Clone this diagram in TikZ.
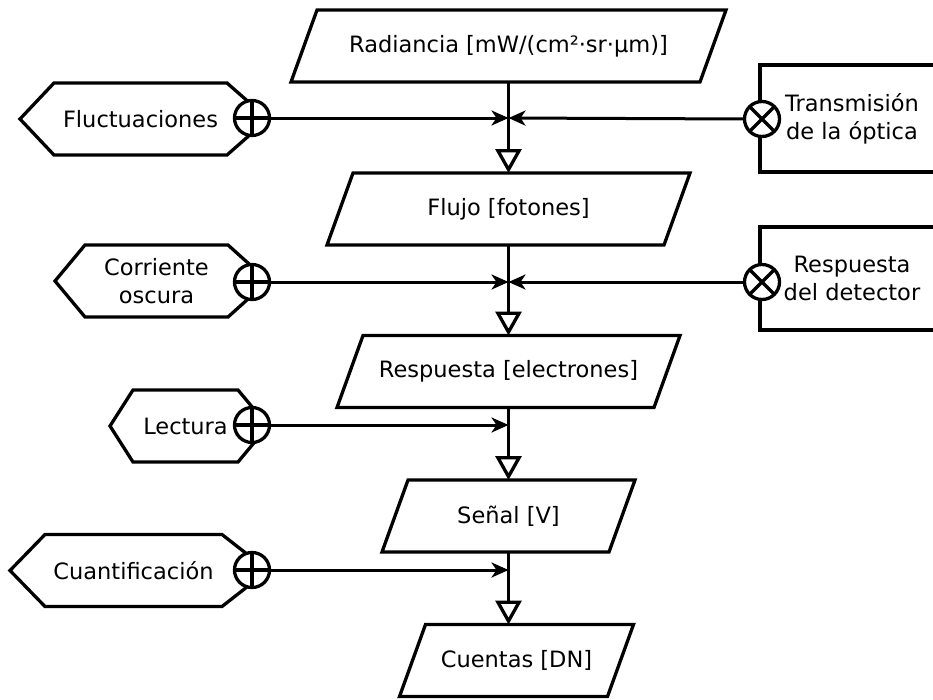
\documentclass[tikz,border=0pt]{standalone}
\usepackage{fontspec}
\setmainfont{DejaVu Sans}
\usetikzlibrary{arrows.meta,calc}

\tikzset{
  lbl/.style={font=\fontsize{22.5}{28}\selectfont, align=center, inner sep=0pt, outer sep=0pt},
  databox/.style={lbl, minimum height=72pt},
  hexbox/.style={lbl, minimum height=72pt},
  sidebox/.style={lbl, draw, line width=3.3pt},
  mixer/.style={circle, draw, fill=white, line width=3.3pt, minimum size=35pt, inner sep=0pt, outer sep=0pt},
  outline/.style={draw, line width=3.3pt, line join=miter},
  flow/.style={line width=3.3pt, -{Triangle[open, length=24pt, width=26pt]}},
  feed/.style={line width=3pt, -{Stealth[length=17pt, width=15pt, inset=5pt]}},
}

% parallelogram drawn around a data node (skew of 26pt)
\newcommand\paraline[1]{\draw[outline] ($(#1.north west)+(13,0)$) -- ($(#1.north east)+(13,0)$) -- ($(#1.south east)-(13,0)$) -- ($(#1.south west)-(13,0)$) -- cycle;}
% hexagon around a source node: #2 left point depth, #3 right point depth
\newcommand\hexline[3]{\draw[outline] (#1.north west) -- (#1.north east) -- ($(#1.east)+(#3,0)$) -- (#1.south east) -- (#1.south west) -- ($(#1.west)-(#2,0)$) -- cycle;}
% sum and product marks inside a mixer circle
\newcommand\plusmark[1]{\draw[line width=3.3pt] (#1.north) -- (#1.south) (#1.west) -- (#1.east);}
\newcommand\timesmark[1]{\draw[line width=3.3pt] (#1.north west) -- (#1.south east) (#1.north east) -- (#1.south west);}

\begin{document}
\begin{tikzpicture}[x=1pt, y=-1pt]
\useasboundingbox (0,0) rectangle (933,699);
\clip (0,0) rectangle (933,699);

% main chain of quantities
\node[databox, minimum width=409pt] (rad) at (508.5,46) {Radiancia [mW/(cm²·sr·µm)]};
\node[databox, minimum width=337pt] (flu) at (508.5,209) {Flujo [fotones]};
\node[databox, minimum width=317pt] (res) at (508.5,371.5) {Respuesta [electrones]};
\node[databox, minimum width=227pt] (sen) at (508.5,516) {Señal [V]};
\node[databox, minimum width=208pt] (cue) at (516.5,660.5) {Cuentas [DN]};
\paraline{rad}
\paraline{flu}
\paraline{res}
\paraline{sen}
\paraline{cue}

% additive sources
\node[hexbox, minimum width=173pt] (fluc) at (140.5,119) {Fluctuaciones};
\node[hexbox, minimum width=143pt] (corr) at (156.5,281) {Corriente\\oscura};
\node[hexbox, minimum width=105pt] (lect) at (185.5,426) {Lectura};
\node[hexbox, minimum width=177pt] (cuan) at (133.5,570.5) {Cuantificación};
\hexline{fluc}{34}{41}
\hexline{corr}{30}{40}
\hexline{lect}{23}{30}
\hexline{cuan}{35}{46}

% multiplicative factors
\node[sidebox, minimum width=184pt, minimum height=107pt] (tra) at (852,118.5) {Transmisión\\de la óptica};
\node[sidebox, minimum width=184pt, minimum height=103pt] (det) at (852,278.5) {Respuesta\\del detector};

% mixers
\node[mixer] (pf) at (252,118) {};
\node[mixer] (pc) at (252,282) {};
\node[mixer] (pl) at (252,425) {};
\node[mixer] (pq) at (252,570) {};
\node[mixer] (tx) at (762,119) {};
\node[mixer] (dx) at (762,282) {};
\plusmark{pf}
\plusmark{pc}
\plusmark{pl}
\plusmark{pq}
\timesmark{tx}
\timesmark{dx}

% junctions on the main line
\coordinate (j1) at (508.5,118);
\coordinate (j2) at (508.5,282);
\coordinate (j3) at (508.5,425);
\coordinate (j4) at (508.5,570);

% main flow
\draw[flow] (rad.south) -- (flu.north);
\draw[flow] (flu.south) -- (res.north);
\draw[flow] (res.south) -- (sen.north);
\draw[flow] (sen.south) -- (sen.south |- cue.north);

% contributions
\draw[feed] (pf.east) -- (j1);
\draw[feed] (tx.west) -- (j1);
\draw[feed] (pc.east) -- (j2);
\draw[feed] (dx.west) -- (j2);
\draw[feed] (pl.east) -- (j3);
\draw[feed] (pq.east) -- (j4);
\end{tikzpicture}
\end{document}
